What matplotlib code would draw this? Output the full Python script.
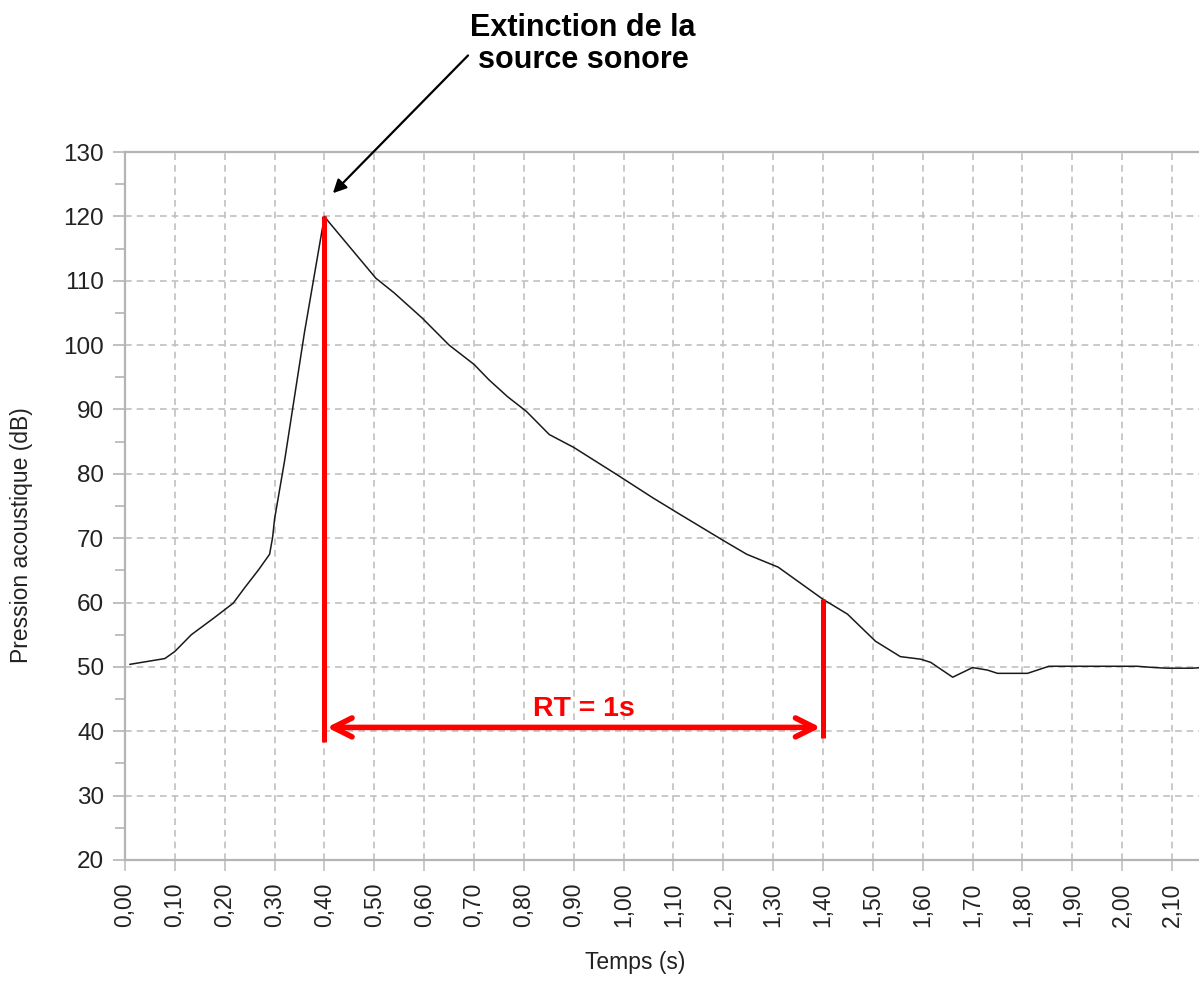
import numpy as np
import matplotlib
matplotlib.use('Agg')
import matplotlib.pyplot as plt
from matplotlib.ticker import MultipleLocator, FixedLocator

plt.rcParams['font.family'] = ['Liberation Sans', 'DejaVu Sans']

# courbe
temps = [0.01, 0.08, 0.10, 0.133, 0.18, 0.217, 0.24, 0.268, 0.29, 0.296, 0.30,
         0.32, 0.34, 0.36, 0.38, 0.40, 0.408, 0.503, 0.54, 0.596, 0.65, 0.70,
         0.73, 0.767, 0.805, 0.851, 0.90, 0.986, 1.058, 1.113, 1.203, 1.247,
         1.31, 1.40, 1.449, 1.505, 1.555, 1.596, 1.616, 1.66, 1.70, 1.73, 1.75,
         1.81, 1.853, 2.03, 2.064, 2.09, 2.14, 2.16]
pression = [50.4, 51.3, 52.4, 55.0, 57.7, 59.9, 62.3, 65.1, 67.5, 70.1, 73.0,
            82.0, 92.0, 102.0, 111.0, 120.0, 119.2, 110.4, 108.1, 104.2, 100.0, 97.0,
            94.6, 92.0, 89.7, 86.1, 84.1, 79.9, 76.3, 73.7, 69.5, 67.5,
            65.5, 60.5, 58.2, 54.0, 51.6, 51.2, 50.7, 48.4, 49.9, 49.5, 49.0,
            49.0, 50.1, 50.1, 49.9, 49.8, 49.8, 49.9]

xticks = [round(0.1 * i, 2) for i in range(22)]
xlabels = ['%.2f' % v for v in xticks]
xlabels = [s.replace('.', ',') for s in xlabels]

t_ext = 0.40      # extinction
t_fin = 1.40      # fin de la mesure
p_ext = 120.0
p_fin = 60.6
p_bas = 38.4
p_fleche = 40.6

fig = plt.figure(figsize=(11.99, 9.81), dpi=100)
ax = fig.add_axes([125/1199, 1 - 860/981, 1074/1199, 708/981])

ax.plot(temps, pression, color='#1a1a1a', lw=1.1, zorder=3)

ax.set_xlim(0, 2.154)
ax.set_ylim(20, 130)
ax.xaxis.set_major_locator(FixedLocator(xticks))
ax.set_xticklabels(xlabels, rotation=90)
ax.yaxis.set_major_locator(MultipleLocator(10))
ax.yaxis.set_minor_locator(MultipleLocator(5))

ax.grid(True, which='major', color='#c0c0c0', ls=(0, (4, 3)), lw=1.2)
for s in ['left', 'top', 'bottom']:
    ax.spines[s].set_color('#b4b4b4')
    ax.spines[s].set_linewidth(1.6)
ax.spines['right'].set_visible(False)
ax.tick_params(axis='y', which='major', length=9, width=1.2, color='#b4b4b4',
               labelsize=17.5, labelcolor='#222222', pad=6)
ax.tick_params(axis='y', which='minor', length=7, width=1.2, color='#b4b4b4')
ax.tick_params(axis='x', which='major', length=8, width=1.2, color='#c0c0c0',
               labelsize=16.5, labelcolor='#222222', pad=8)

# marqueurs rouges
ax.plot([t_ext, t_ext], [p_bas, p_ext], color='red', lw=3.6, zorder=4,
        solid_capstyle='butt')
ax.plot([t_fin, t_fin], [p_bas + 0.6, p_fin], color='red', lw=3.6, zorder=4,
        solid_capstyle='butt')
ax.annotate('', xy=(t_ext + 0.005, p_fleche), xytext=(t_fin - 0.005, p_fleche),
            arrowprops=dict(arrowstyle='<->', color='red', lw=4,
                            mutation_scale=34, shrinkA=0, shrinkB=0), zorder=5)
ax.text((t_ext + t_fin) / 2 + 0.02, 43.4, 'RT = 1s', color='red', fontsize=20.5,
        fontweight='bold', ha='center', va='center')

# fleche noire
ax.annotate('', xy=(0.417, 123.6), xytext=(0.688, 145.0),
            arrowprops=dict(arrowstyle='-|>', color='black', lw=1.6,
                            mutation_scale=20, shrinkA=0, shrinkB=0),
            annotation_clip=False)
fig.text(583/1199, 1 - 44/981, 'Extinction de la\nsource sonore', ha='center',
         va='center', fontsize=22, fontweight='bold', linespacing=1.1)

fig.text(635/1199, 1 - 963/981, 'Temps (s)', ha='center', va='center',
         fontsize=16.5, color='#222222')
fig.text(22/1199, 1 - 535/981, 'Pression acoustique (dB)', ha='center',
         va='center', rotation=90, fontsize=16.5, color='#222222')

plt.savefig('out.png', dpi=100)
